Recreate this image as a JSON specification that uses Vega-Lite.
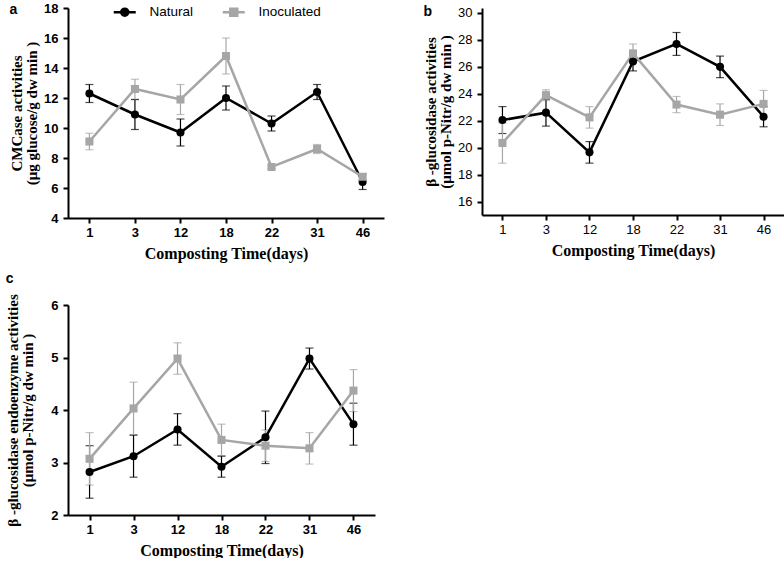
{
  "$schema": "https://vega.github.io/schema/vega-lite/v6.json",
  "padding": {"left": 5, "top": 2, "right": 0, "bottom": 0},
  "background": "white",
  "config": {
    "view": {"stroke": null},
    "axis": {
      "grid": false,
      "domainColor": "#000000",
      "domainWidth": 2,
      "tickColor": "#000000",
      "tickWidth": 2,
      "tickSize": 5,
      "labelFont": "Liberation Sans",
      "labelFontWeight": "bold",
      "labelFontSize": 13,
      "labelColor": "#000000",
      "labelPadding": 3,
      "labelOverlap": false,
      "titleFont": "Liberation Serif",
      "titleFontWeight": "bold",
      "titleFontSize": 15,
      "titleColor": "#000000"
    },
    "axisX": {"labelAngle": 0, "titleFontSize": 16, "titlePadding": 6},
    "axisY": {"titlePadding": 4, "titleLineHeight": 15, "labelPadding": 5},
    "title": {"font": "Liberation Sans", "fontWeight": "bold", "fontSize": 14, "anchor": "start", "frame": "bounds", "color": "#000000"},
    "legend": {"labelFont": "Liberation Sans", "labelFontSize": 13.5, "labelColor": "#000000"}
  },
  "datasets": {
    "all": [
      {"panel": "a", "group": "Natural", "day": "1", "value": 12.3, "lo": 11.7, "hi": 12.9},
      {"panel": "a", "group": "Natural", "day": "3", "value": 10.9, "lo": 9.9, "hi": 11.9},
      {"panel": "a", "group": "Natural", "day": "12", "value": 9.7, "lo": 8.8, "hi": 10.6},
      {"panel": "a", "group": "Natural", "day": "18", "value": 12.0, "lo": 11.2, "hi": 12.8},
      {"panel": "a", "group": "Natural", "day": "22", "value": 10.3, "lo": 9.8, "hi": 10.8},
      {"panel": "a", "group": "Natural", "day": "31", "value": 12.4, "lo": 11.9, "hi": 12.9},
      {"panel": "a", "group": "Natural", "day": "46", "value": 6.4, "lo": 5.9, "hi": 6.9},
      {"panel": "a", "group": "Inoculated", "day": "1", "value": 9.1, "lo": 8.55, "hi": 9.65},
      {"panel": "a", "group": "Inoculated", "day": "3", "value": 12.6, "lo": 11.9, "hi": 13.25},
      {"panel": "a", "group": "Inoculated", "day": "12", "value": 11.9, "lo": 10.9, "hi": 12.9},
      {"panel": "a", "group": "Inoculated", "day": "18", "value": 14.8, "lo": 13.6, "hi": 16.0},
      {"panel": "a", "group": "Inoculated", "day": "22", "value": 7.4, "lo": 7.3, "hi": 7.5},
      {"panel": "a", "group": "Inoculated", "day": "31", "value": 8.6, "lo": 8.3, "hi": 8.9},
      {"panel": "a", "group": "Inoculated", "day": "46", "value": 6.75, "lo": 6.55, "hi": 6.95},
      {"panel": "b", "group": "Natural", "day": "1", "value": 22.05, "lo": 21.05, "hi": 23.05},
      {"panel": "b", "group": "Natural", "day": "3", "value": 22.6, "lo": 21.6, "hi": 23.6},
      {"panel": "b", "group": "Natural", "day": "12", "value": 19.65, "lo": 18.85, "hi": 20.45},
      {"panel": "b", "group": "Natural", "day": "18", "value": 26.4, "lo": 25.7, "hi": 27.1},
      {"panel": "b", "group": "Natural", "day": "22", "value": 27.7, "lo": 26.85, "hi": 28.55},
      {"panel": "b", "group": "Natural", "day": "31", "value": 26.0, "lo": 25.2, "hi": 26.8},
      {"panel": "b", "group": "Natural", "day": "46", "value": 22.3, "lo": 21.55, "hi": 23.05},
      {"panel": "b", "group": "Inoculated", "day": "1", "value": 20.35, "lo": 18.85, "hi": 21.85},
      {"panel": "b", "group": "Inoculated", "day": "3", "value": 23.9, "lo": 23.5, "hi": 24.3},
      {"panel": "b", "group": "Inoculated", "day": "12", "value": 22.25, "lo": 21.45, "hi": 23.05},
      {"panel": "b", "group": "Inoculated", "day": "18", "value": 27.0, "lo": 26.3, "hi": 27.7},
      {"panel": "b", "group": "Inoculated", "day": "22", "value": 23.2, "lo": 22.6, "hi": 23.8},
      {"panel": "b", "group": "Inoculated", "day": "31", "value": 22.45, "lo": 21.65, "hi": 23.25},
      {"panel": "b", "group": "Inoculated", "day": "46", "value": 23.25, "lo": 22.25, "hi": 24.25},
      {"panel": "c", "group": "Natural", "day": "1", "value": 2.82, "lo": 2.32, "hi": 3.32},
      {"panel": "c", "group": "Natural", "day": "3", "value": 3.12, "lo": 2.72, "hi": 3.52},
      {"panel": "c", "group": "Natural", "day": "12", "value": 3.63, "lo": 3.33, "hi": 3.93},
      {"panel": "c", "group": "Natural", "day": "18", "value": 2.92, "lo": 2.72, "hi": 3.12},
      {"panel": "c", "group": "Natural", "day": "22", "value": 3.48, "lo": 2.98, "hi": 3.98},
      {"panel": "c", "group": "Natural", "day": "31", "value": 4.98, "lo": 4.78, "hi": 5.18},
      {"panel": "c", "group": "Natural", "day": "46", "value": 3.73, "lo": 3.33, "hi": 4.13},
      {"panel": "c", "group": "Inoculated", "day": "1", "value": 3.07, "lo": 2.57, "hi": 3.57},
      {"panel": "c", "group": "Inoculated", "day": "3", "value": 4.03, "lo": 3.53, "hi": 4.53},
      {"panel": "c", "group": "Inoculated", "day": "12", "value": 4.98, "lo": 4.68, "hi": 5.28},
      {"panel": "c", "group": "Inoculated", "day": "18", "value": 3.43, "lo": 3.13, "hi": 3.73},
      {"panel": "c", "group": "Inoculated", "day": "22", "value": 3.32, "lo": 3.02, "hi": 3.62},
      {"panel": "c", "group": "Inoculated", "day": "31", "value": 3.27, "lo": 2.97, "hi": 3.57},
      {"panel": "c", "group": "Inoculated", "day": "46", "value": 4.37, "lo": 3.97, "hi": 4.77}
    ]
  },
  "columns": 2,
  "align": "none",
  "spacing": {"row": 10, "column": 39},
  "concat": [
    {
      "title": {"text": "a", "offset": -15},
      "width": 316,
      "height": 210,
      "data": {"name": "all"},
      "transform": [{"filter": "datum.panel === 'a'"}],
      "encoding": {
        "x": {"field": "day", "type": "ordinal", "sort": ["1", "3", "12", "18", "22", "31", "46"], "scale": {"type": "point", "padding": 0.47}, "axis": {"title": "Composting Time(days)"}},
        "color": {"field": "group", "type": "nominal", "scale": {"domain": ["Natural", "Inoculated"], "range": ["#000000", "#a6a6a6"]},
          "legend": {"title": null, "orient": "none", "direction": "horizontal", "legendX": 48, "legendY": -5, "padding": 2, "labelOffset": 18, "columnPadding": 23, "symbolSize": 100,
            "encode": {"symbols": {"update": {
              "shape": {"signal": "datum.value === 'Natural' ? 'M-2.2,0H2.2M0.7,0A0.7,0.7,0,1,1,-0.7,0A0.7,0.7,0,1,1,0.7,0Z' : 'M-2.2,0H2.2M-0.7,-0.7H0.7V0.7H-0.7Z'"},
              "stroke": {"signal": "datum.value === 'Natural' ? '#000000' : '#a6a6a6'"},
              "strokeWidth": {"value": 2.5},
              "size": {"value": 100},
              "opacity": {"value": 1}
            }}}}}
      },
      "layer": [
        {"mark": {"type": "errorbar", "ticks": {"size": 8}, "thickness": 1.2}, "encoding": {
          "y": {"field": "lo", "type": "quantitative", "scale": {"domain": [4, 18], "nice": false, "zero": false}, "axis": {"values": [4, 6, 8, 10, 12, 14, 16, 18], "title": ["CMCase activities", "(μg glucose/g dw min )"]}}, "y2": {"field": "hi"}}},
        {"mark": {"type": "line", "strokeWidth": 2.5}, "encoding": {"y": {"field": "value", "type": "quantitative", "axis": {"values": [4, 6, 8, 10, 12, 14, 16, 18], "title": ["CMCase activities", "(μg glucose/g dw min )"]}}}},
        {"transform": [{"filter": "datum.group === 'Natural'"}], "mark": {"type": "point", "shape": "circle", "filled": true, "opacity": 1, "size": 65}, "encoding": {"y": {"field": "value", "type": "quantitative", "axis": {"values": [4, 6, 8, 10, 12, 14, 16, 18], "title": ["CMCase activities", "(μg glucose/g dw min )"]}}}},
        {"transform": [{"filter": "datum.group === 'Inoculated'"}], "mark": {"type": "point", "shape": "square", "filled": true, "opacity": 1, "size": 65}, "encoding": {"y": {"field": "value", "type": "quantitative", "axis": {"values": [4, 6, 8, 10, 12, 14, 16, 18], "title": ["CMCase activities", "(μg glucose/g dw min )"]}}}}
      ]
    },
    {
      "title": {"text": "b", "offset": -12},
      "width": 302,
      "height": 207,
      "data": {"name": "all"},
      "transform": [{"filter": "datum.panel === 'b'"}],
      "encoding": {
        "x": {"field": "day", "type": "ordinal", "sort": ["1", "3", "12", "18", "22", "31", "46"], "scale": {"type": "point", "padding": 0.47}, "axis": {"title": "Composting Time(days)", "labelFontWeight": "normal"}},
        "color": {"field": "group", "type": "nominal", "scale": {"domain": ["Natural", "Inoculated"], "range": ["#000000", "#a6a6a6"]},
          "legend": {"title": null, "orient": "none", "direction": "horizontal", "legendX": 59, "legendY": 0.5, "padding": 2, "labelOffset": 18, "columnPadding": 41, "symbolSize": 100,
            "encode": {"symbols": {"update": {
              "shape": {"signal": "datum.value === 'Natural' ? 'M-2.2,0H2.2M0.7,0A0.7,0.7,0,1,1,-0.7,0A0.7,0.7,0,1,1,0.7,0Z' : 'M-2.2,0H2.2M-0.7,-0.7H0.7V0.7H-0.7Z'"},
              "stroke": {"signal": "datum.value === 'Natural' ? '#000000' : '#a6a6a6'"},
              "strokeWidth": {"value": 2.5},
              "size": {"value": 100},
              "opacity": {"value": 1}
            }}}}}
      },
      "layer": [
        {"mark": {"type": "errorbar", "ticks": {"size": 8}, "thickness": 1.2}, "encoding": {
          "y": {"field": "lo", "type": "quantitative", "scale": {"domain": [15, 30.37], "nice": false, "zero": false}, "axis": {"values": [16, 18, 20, 22, 24, 26, 28, 30], "labelFontWeight": "normal", "title": ["β -glucosidase activities", "(μmol p-Nitr/g dw min )"]}}, "y2": {"field": "hi"}}},
        {"mark": {"type": "line", "strokeWidth": 2.5}, "encoding": {"y": {"field": "value", "type": "quantitative", "axis": {"values": [16, 18, 20, 22, 24, 26, 28, 30], "labelFontWeight": "normal", "title": ["β -glucosidase activities", "(μmol p-Nitr/g dw min )"]}}}},
        {"transform": [{"filter": "datum.group === 'Natural'"}], "mark": {"type": "point", "shape": "circle", "filled": true, "opacity": 1, "size": 65}, "encoding": {"y": {"field": "value", "type": "quantitative", "axis": {"values": [16, 18, 20, 22, 24, 26, 28, 30], "labelFontWeight": "normal", "title": ["β -glucosidase activities", "(μmol p-Nitr/g dw min )"]}}}},
        {"transform": [{"filter": "datum.group === 'Inoculated'"}], "mark": {"type": "point", "shape": "square", "filled": true, "opacity": 1, "size": 65}, "encoding": {"y": {"field": "value", "type": "quantitative", "axis": {"values": [16, 18, 20, 22, 24, 26, 28, 30], "labelFontWeight": "normal", "title": ["β -glucosidase activities", "(μmol p-Nitr/g dw min )"]}}}}
      ]
    },
    {
      "title": {"text": "c", "offset": 8},
      "width": 307,
      "height": 210,
      "data": {"name": "all"},
      "transform": [{"filter": "datum.panel === 'c'"}],
      "encoding": {
        "x": {"field": "day", "type": "ordinal", "sort": ["1", "3", "12", "18", "22", "31", "46"], "scale": {"type": "point", "padding": 0.49}, "axis": {"title": "Composting Time(days)"}},
        "color": {"field": "group", "type": "nominal", "scale": {"domain": ["Natural", "Inoculated"], "range": ["#000000", "#a6a6a6"]},
          "legend": {"title": null, "orient": "none", "direction": "horizontal", "legendX": 52, "legendY": -8, "padding": 2, "labelOffset": 18, "columnPadding": 41, "symbolSize": 100,
            "encode": {"symbols": {"update": {
              "shape": {"signal": "datum.value === 'Natural' ? 'M-2.2,0H2.2M0.7,0A0.7,0.7,0,1,1,-0.7,0A0.7,0.7,0,1,1,0.7,0Z' : 'M-2.2,0H2.2M-0.7,-0.7H0.7V0.7H-0.7Z'"},
              "stroke": {"signal": "datum.value === 'Natural' ? '#000000' : '#a6a6a6'"},
              "strokeWidth": {"value": 2.5},
              "size": {"value": 100},
              "opacity": {"value": 1}
            }}}}}
      },
      "layer": [
        {"mark": {"type": "errorbar", "ticks": {"size": 8}, "thickness": 1.2}, "encoding": {
          "y": {"field": "lo", "type": "quantitative", "scale": {"domain": [2, 6], "nice": false, "zero": false}, "axis": {"values": [2, 3, 4, 5, 6], "format": "d", "titlePadding": 15, "title": ["β -glucosidase endoenzyme activities", "(μmol p-Nitr/g dw min )"]}}, "y2": {"field": "hi"}}},
        {"mark": {"type": "line", "strokeWidth": 2.5}, "encoding": {"y": {"field": "value", "type": "quantitative", "axis": {"values": [2, 3, 4, 5, 6], "format": "d", "titlePadding": 15, "title": ["β -glucosidase endoenzyme activities", "(μmol p-Nitr/g dw min )"]}}}},
        {"transform": [{"filter": "datum.group === 'Natural'"}], "mark": {"type": "point", "shape": "circle", "filled": true, "opacity": 1, "size": 65}, "encoding": {"y": {"field": "value", "type": "quantitative", "axis": {"values": [2, 3, 4, 5, 6], "format": "d", "titlePadding": 15, "title": ["β -glucosidase endoenzyme activities", "(μmol p-Nitr/g dw min )"]}}}},
        {"transform": [{"filter": "datum.group === 'Inoculated'"}], "mark": {"type": "point", "shape": "square", "filled": true, "opacity": 1, "size": 65}, "encoding": {"y": {"field": "value", "type": "quantitative", "axis": {"values": [2, 3, 4, 5, 6], "format": "d", "titlePadding": 15, "title": ["β -glucosidase endoenzyme activities", "(μmol p-Nitr/g dw min )"]}}}}
      ]
    }
  ]
}
